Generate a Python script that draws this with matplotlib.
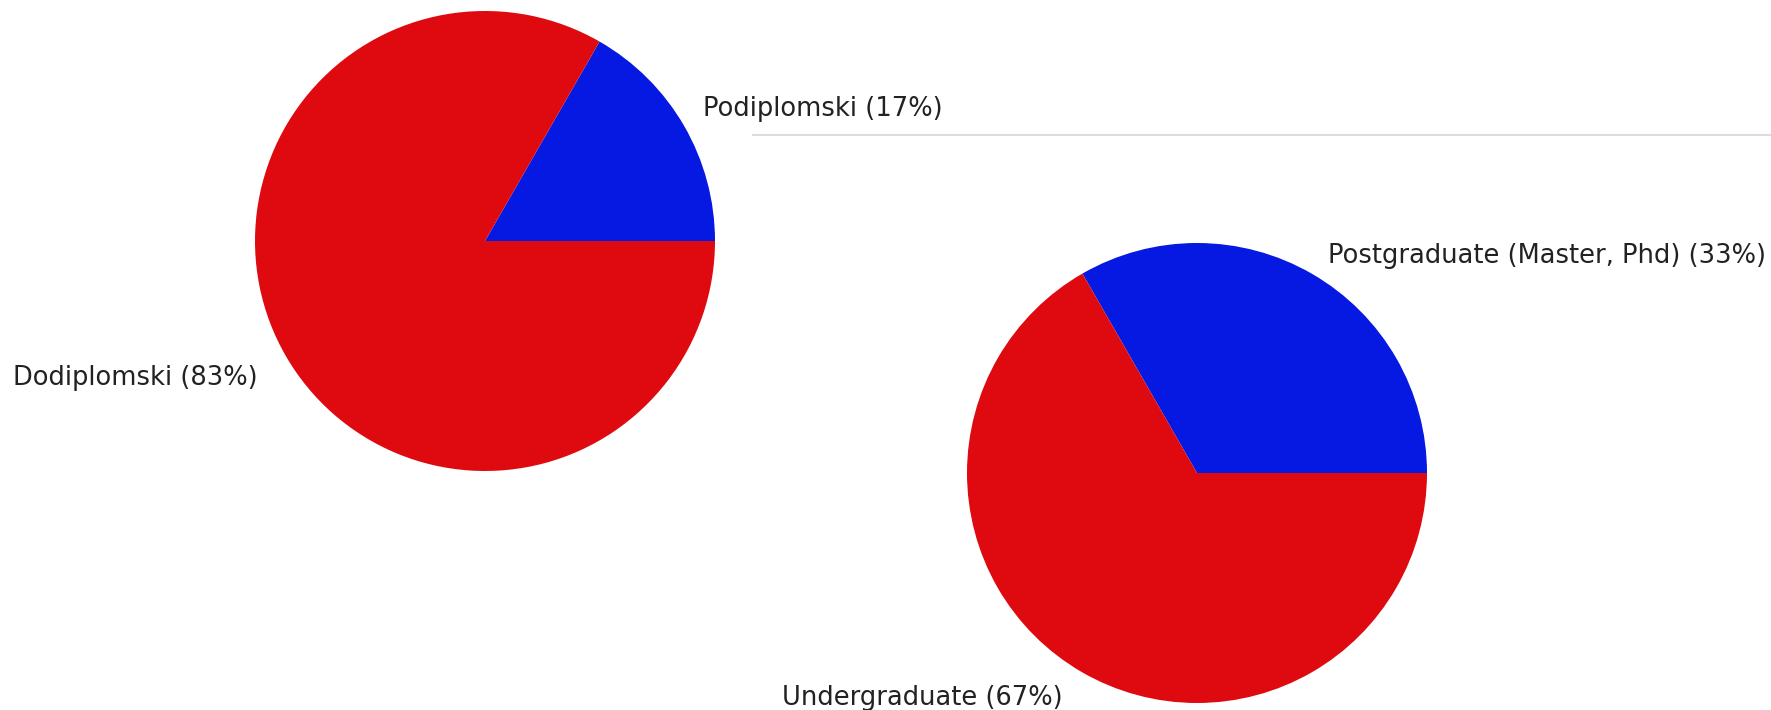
import matplotlib
matplotlib.use("Agg")
import matplotlib.pyplot as plt

# data for both pies (shares in percent)
pie1_labels = ["Podiplomski", "Dodiplomski"]
pie1_values = [16.7, 83.3]
pie2_labels = ["Postgraduate (Master, Phd)", "Undergraduate"]
pie2_values = [33.3, 66.7]

colors = ["#0619e2", "#df0a10"]

W, H = 1771, 710

fig = plt.figure(figsize=(W / 100, H / 100), dpi=100)
ax = fig.add_axes([0, 0, 1, 1])

# pies in pixel coordinates (y measured from the bottom)
ax.pie(pie1_values, colors=colors, center=(485, H - 241), radius=230,
       startangle=0, counterclock=True, frame=True)
ax.pie(pie2_values, colors=colors, center=(1197, H - 473), radius=230,
       startangle=0, counterclock=True, frame=True)

# grey separator line
ax.plot([753, W], [H - 135, H - 135], color="#dcdcdc", lw=1.5)

# labels
label_pos = [(703, 116), (13, 385), (1328, 263), (782, 705)]
texts = [f"{l} ({v:.0f}%)" for l, v in zip(pie1_labels + pie2_labels,
                                           pie1_values + pie2_values)]
for (x, y), t in zip(label_pos, texts):
    ax.text(x, H - y, t, fontsize=18.5, color="#222222",
            ha="left", va="baseline", family="DejaVu Sans")

ax.set_xlim(0, W)
ax.set_ylim(0, H)
ax.set_aspect("equal")
ax.axis("off")

fig.savefig("out.png", dpi=100)
